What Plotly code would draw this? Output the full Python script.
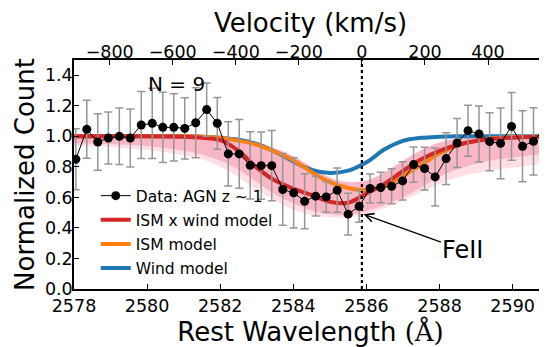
import plotly.graph_objects as go

C_KMS = 299792.458
LAM0 = 2585.876  # Fe II rest wavelength (velocity zero)

# ---- data (stacked AGN spectrum) ----
wave = [2578.05, 2578.35, 2578.65, 2578.94, 2579.24, 2579.54, 2579.84, 2580.14, 2580.43, 2580.73,
        2581.03, 2581.33, 2581.63, 2581.92, 2582.22, 2582.52, 2582.82, 2583.12, 2583.41, 2583.71,
        2584.01, 2584.31, 2584.61, 2584.90, 2585.20, 2585.50, 2585.80, 2586.10, 2586.39, 2586.69,
        2586.99, 2587.29, 2587.59, 2587.88, 2588.18, 2588.48, 2588.78, 2589.08, 2589.37, 2589.67,
        2589.97, 2590.27, 2590.57, 2590.86]
flux = [0.85, 1.046, 0.963, 0.989, 1.0, 0.989, 1.074, 1.085, 1.059, 1.059,
        1.052, 1.089, 1.175, 1.085, 0.885, 0.885, 0.81, 0.808, 0.808, 0.652,
        0.63, 0.575, 0.608, 0.603, 0.647, 0.49, 0.542, 0.658, 0.665, 0.673,
        0.708, 0.815, 0.789, 0.734, 0.854, 0.956, 1.037, 1.015, 0.965, 0.954,
        1.065, 0.935, 0.967, 1.054]
err = [0.20, 0.19, 0.185, 0.17, 0.185, 0.19, 0.22, 0.23, 0.23, 0.22,
       0.20, 0.23, 0.175, 0.17, 0.21, 0.225, 0.22, 0.22, 0.23, 0.235,
       0.23, 0.18, 0.13, 0.10, 0.145, 0.137, 0.105, 0.095, 0.10, 0.115,
       0.125, 0.115, 0.14, 0.19, 0.17, 0.16, 0.167, 0.183, 0.19, 0.232,
       0.222, 0.233, 0.22, 0.225]

# ---- models ----
model_wave = [2578.0, 2578.5, 2579.0, 2579.5, 2580.0, 2580.5, 2581.0, 2581.5, 2582.0, 2582.5,
              2583.0, 2583.5, 2584.0, 2584.5, 2585.0, 2585.5, 2586.0, 2586.5, 2587.0, 2587.5,
              2588.0, 2588.5, 2589.0, 2589.5, 2590.0, 2590.5, 2591.0]
ism_wind = [1.0, 1.0, 1.0, 1.0, 1.0, 0.999, 0.997, 0.99, 0.975, 0.905,
            0.795, 0.71, 0.657, 0.615, 0.572, 0.565, 0.625, 0.69, 0.773, 0.85,
            0.905, 0.945, 0.97, 0.984, 0.991, 0.995, 0.997]
ism = [1.0, 1.0, 1.0, 1.0, 1.0, 1.0, 1.0, 0.998, 0.99, 0.972,
       0.945, 0.90, 0.843, 0.765, 0.70, 0.662, 0.648, 0.675, 0.74, 0.815,
       0.887, 0.94, 0.97, 0.987, 0.995, 0.998, 1.0]
wind = [1.0, 1.0, 1.0, 1.0, 1.0, 1.0, 1.0, 0.998, 0.99, 0.977,
        0.95, 0.90, 0.835, 0.78, 0.76, 0.775, 0.83, 0.915, 0.97, 0.99,
        0.997, 1.0, 1.0, 1.0, 1.0, 1.0, 1.0]
band_upper = [1.0, 1.0, 1.0, 1.0, 1.0, 1.0, 1.0, 0.999, 0.995, 0.98,
              0.955, 0.92, 0.87, 0.80, 0.73, 0.70, 0.71, 0.765, 0.84, 0.91,
              0.96, 0.985, 0.995, 1.0, 1.0, 1.0, 1.0]
band_lower = [0.955, 0.952, 0.948, 0.943, 0.935, 0.923, 0.905, 0.88, 0.84, 0.78,
              0.70, 0.62, 0.56, 0.515, 0.49, 0.485, 0.51, 0.55, 0.60, 0.665,
              0.735, 0.785, 0.82, 0.845, 0.86, 0.875, 0.89]
band_outer = [0.94, 0.935, 0.93, 0.92, 0.91, 0.895, 0.875, 0.85, 0.80, 0.73,
              0.65, 0.58, 0.52, 0.485, 0.47, 0.47, 0.49, 0.53, 0.58, 0.635,
              0.69, 0.73, 0.76, 0.78, 0.795, 0.81, 0.825]

x_ticks = [2578, 2580, 2582, 2584, 2586, 2588, 2590]
y_ticks = [0.0, 0.2, 0.4, 0.6, 0.8, 1.0, 1.2, 1.4]
v_ticks = [-800, -600, -400, -200, 0, 200, 400]
v_ticktext = ["\u2212800", "\u2212600", "\u2212400", "\u2212200", "0", "200", "400"]

X_RANGE = [2578.0, 2590.94]
V_RANGE = [C_KMS * (X_RANGE[0] / LAM0 - 1), C_KMS * (X_RANGE[1] / LAM0 - 1)]

FONT = "DejaVu Sans"
fig = go.Figure()

# pink band of model realisations
fig.add_trace(go.Scatter(x=model_wave, y=band_outer, mode="lines", line=dict(width=0, shape="spline"),
                         showlegend=False, hoverinfo="skip"))
fig.add_trace(go.Scatter(x=model_wave, y=band_lower, mode="lines", line=dict(width=0, shape="spline"),
                         fill="tonexty", fillcolor="rgba(255,196,208,0.55)", showlegend=False, hoverinfo="skip"))
fig.add_trace(go.Scatter(x=model_wave, y=band_upper, mode="lines", line=dict(width=0, shape="spline"),
                         fill="tonexty", fillcolor="rgb(249,182,196)", showlegend=False, hoverinfo="skip"))

fig.add_trace(go.Scatter(x=model_wave, y=wind, mode="lines", name="Wind model",
                         line=dict(color="#1f77b4", width=4, shape="spline"),
                         legendgroup="d", legendrank=4))
fig.add_trace(go.Scatter(x=model_wave, y=ism, mode="lines", name="ISM model",
                         line=dict(color="#ff7f0e", width=4, shape="spline"),
                         legendgroup="c", legendrank=3))
fig.add_trace(go.Scatter(x=model_wave, y=ism_wind, mode="lines", name="ISM x wind model",
                         line=dict(color="#d62728", width=4, shape="spline"),
                         legendgroup="b", legendrank=2))

# velocity zero marker
fig.add_trace(go.Scatter(x=[LAM0, LAM0], y=[0, 1.5], mode="lines",
                         line=dict(color="black", width=2.2, dash="dot"),
                         showlegend=False, hoverinfo="skip"))

fig.add_trace(go.Scatter(x=wave, y=flux, mode="lines+markers", name="Data: AGN z ~ 1",
                         line=dict(color="black", width=1),
                         marker=dict(color="black", size=9),
                         error_y=dict(type="data", array=err, color="rgb(150,150,150)",
                                      thickness=1.5, width=4),
                         legendgroup="a", legendrank=1))

# helper trace for the velocity (top) axis and right-hand ticks
fig.add_trace(go.Scatter(x=V_RANGE, y=[None, None], xaxis="x2", yaxis="y2",
                         mode="markers", showlegend=False, hoverinfo="skip"))

fig.add_annotation(x=2580.81, y=1.345, xref="x", yref="y", text="N = 9", showarrow=False,
                   font=dict(family=FONT, size=20, color="black"))
fig.add_annotation(x=2585.92, y=0.49, xref="x", yref="y", ax=2588.64, ay=0.255,
                   axref="x", ayref="y", text="FeII", showarrow=True,
                   arrowhead=5, arrowsize=1.4, arrowwidth=1.2, arrowcolor="black",
                   font=dict(family=FONT, size=24, color="black"))

axis_common = dict(showgrid=False, zeroline=False, showline=True, linecolor="black", linewidth=1.5,
                   ticks="inside", ticklen=5, tickwidth=1, tickcolor="black", automargin=False,
                   tickfont=dict(family=FONT, size=17.5, color="black"))

# the page body adds an 8 px offset, so the figure is 8 px smaller than the window
fig.update_layout(
    width=539, height=339,
    margin=dict(l=66, r=0, t=52, b=58, autoexpand=False),
    paper_bgcolor="white", plot_bgcolor="white",
    font=dict(family=FONT, color="black"),
    xaxis=dict(range=X_RANGE, tickvals=x_ticks, ticktext=[str(t) for t in x_ticks],
               title=dict(text="Rest Wavelength <span style='font-family:DejaVu Serif'>(Å)</span>",
                          font=dict(family=FONT, size=26), standoff=2),
               **axis_common),
    yaxis=dict(range=[0, 1.5], tickvals=y_ticks, ticktext=["%.1f" % t for t in y_ticks],
               ticklabelstandoff=-4,
               title=dict(text="Normalized Count", font=dict(family=FONT, size=26), standoff=3),
               **axis_common),
    xaxis2=dict(range=V_RANGE, overlaying="x", side="top", anchor="y2",
                tickvals=v_ticks, ticktext=v_ticktext, ticklabelstandoff=-7,
                title=dict(text="Velocity (km/s)", font=dict(family=FONT, size=26), standoff=2),
                **axis_common),
    yaxis2=dict(range=[0, 1.5], overlaying="y", side="right", showgrid=False, zeroline=False,
                showline=False, ticks="inside", ticklen=5, tickwidth=1, tickcolor="black",
                tickvals=y_ticks, showticklabels=False, automargin=False),
    legend=dict(x=0.046, y=0.48, xanchor="left", yanchor="top", bgcolor="rgba(0,0,0,0)",
                font=dict(family=FONT, size=15.5, color="black"), itemwidth=30,
                traceorder="grouped", tracegroupgap=1),
    showlegend=True,
)

fig.write_html("out.html")
